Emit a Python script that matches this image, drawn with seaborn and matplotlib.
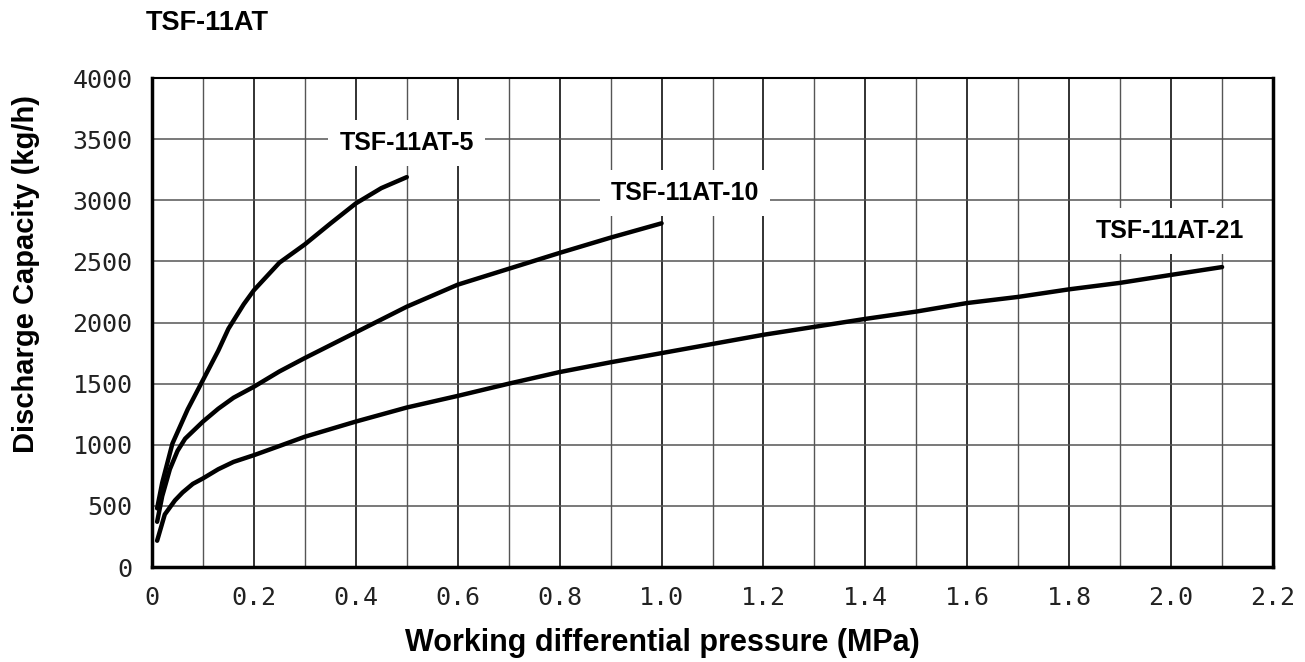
import pandas as pd
import matplotlib.pyplot as plt
import seaborn as sns

# Data
x_5 = [0.01, 0.02, 0.04, 0.07, 0.1, 0.13, 0.15, 0.18, 0.2, 0.25, 0.3, 0.35, 0.4, 0.45, 0.5]
y_5 = [480, 690, 1010, 1290, 1530, 1770, 1950, 2150, 2265, 2490, 2640, 2810, 2975, 3100, 3190]

x_10 = [0.01, 0.02, 0.035, 0.05, 0.065, 0.08, 0.1, 0.13, 0.16, 0.2, 0.25, 0.3, 0.4, 0.5,
        0.6, 0.7, 0.8, 0.9, 1.0]
y_10 = [370, 580, 800, 950, 1050, 1110, 1190, 1295, 1385, 1475, 1600, 1710, 1920, 2130,
        2310, 2440, 2570, 2695, 2812]

x_21 = [0.01, 0.025, 0.045, 0.06, 0.08, 0.1, 0.13, 0.16, 0.2, 0.25, 0.3, 0.4, 0.5, 0.6,
        0.7, 0.8, 0.9, 1.0, 1.1, 1.2, 1.3, 1.4, 1.5, 1.6, 1.7, 1.8, 1.9, 2.0, 2.1]
y_21 = [215, 430, 545, 610, 680, 725, 800, 860, 915, 990, 1066, 1190, 1305, 1400,
        1500, 1595, 1675, 1750, 1825, 1900, 1965, 2030, 2090, 2160, 2210, 2272, 2325, 2390, 2454]

models = ["TSF-11AT-5", "TSF-11AT-10", "TSF-11AT-21"]
label_x = [0.5, 1.046, 1.998]
label_y = [3468, 3059, 2748]

x_ticks = [0, 0.2, 0.4, 0.6, 0.8, 1.0, 1.2, 1.4, 1.6, 1.8, 2.0, 2.2]
x_ticklabels = ["0", "0.2", "0.4", "0.6", "0.8", "1.0", "1.2", "1.4", "1.6", "1.8", "2.0", "2.2"]
y_ticks = [0, 500, 1000, 1500, 2000, 2500, 3000, 3500, 4000]

df = pd.concat([
    pd.DataFrame({"x": x_5, "y": y_5, "model": models[0]}),
    pd.DataFrame({"x": x_10, "y": y_10, "model": models[1]}),
    pd.DataFrame({"x": x_21, "y": y_21, "model": models[2]}),
])

sns.set_style("white")
plt.rcParams['font.family'] = ['Liberation Sans', 'DejaVu Sans']
plt.rcParams['text.color'] = 'black'
plt.rcParams['axes.labelcolor'] = 'black'

fig = plt.figure(figsize=(13.05, 6.62), dpi=100)
ax = fig.add_axes([0.1165, 0.1435, 0.859, 0.7385])

# grid: every 0.1 MPa and every 500 kg/h
for gx in range(1, 22):
    ax.axvline(gx / 10, color="#222222" if gx % 2 == 0 else "#555555",
               lw=1.3 if gx % 2 == 0 else 1.0, zorder=1)
for gy in y_ticks[1:-1]:
    ax.axhline(gy, color="#555555", lw=1.1, zorder=1)

sns.lineplot(data=df, x="x", y="y", hue="model", palette=["black"] * 3,
             linewidth=3.2, legend=False, ax=ax, zorder=3, sort=False,
             solid_joinstyle="round", solid_capstyle="round")

for name, lx, ly in zip(models, label_x, label_y):
    ax.text(lx, ly, name, ha="center", va="center", fontsize=18, fontweight="bold",
            zorder=4, bbox=dict(facecolor="white", edgecolor="none",
                                boxstyle="square,pad=0.45"))

ax.set_xlim(0, 2.2)
ax.set_ylim(0, 4000)
ax.set_xticks(x_ticks)
ax.set_xticklabels(x_ticklabels)
ax.set_yticks(y_ticks)
for lab in ax.get_xticklabels() + ax.get_yticklabels():
    lab.set_fontfamily("DejaVu Sans Mono")
    lab.set_fontsize(18)
    lab.set_color("#222222")
ax.tick_params(axis="both", length=0, pad=14)

for side in ["left", "bottom", "right"]:
    ax.spines[side].set_linewidth(2.5)
ax.spines["top"].set_linewidth(1.5)
for s in ax.spines.values():
    s.set_color("black")

ax.set_xlabel("Working differential pressure (MPa)", fontsize=22, fontweight="bold")
ax.xaxis.set_label_coords(0.455, -0.124)
ax.set_ylabel("Discharge Capacity (kg/h)", fontsize=21, fontweight="bold")
ax.yaxis.set_label_coords(-0.1, 0.6)
fig.text(0.112, 0.965, "TSF-11AT", fontsize=19.5, fontweight="bold", va="center")

plt.savefig("out.png", dpi=100)
